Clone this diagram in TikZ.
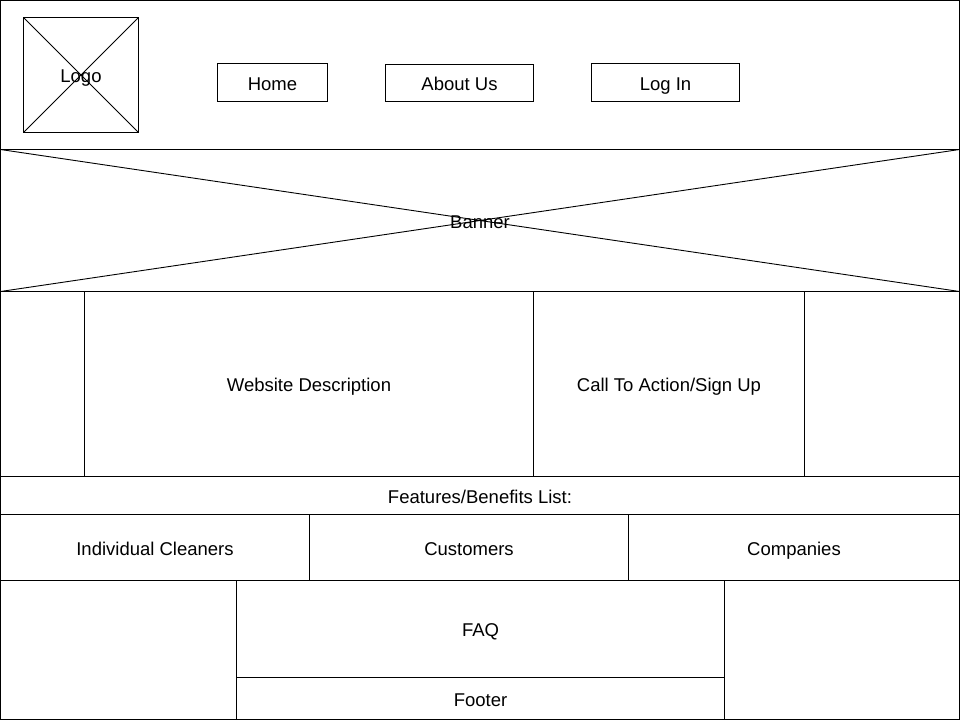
\documentclass[tikz,border=0pt]{standalone}
\usepackage{fontspec}
\setmainfont{Liberation Sans}
\begin{document}
\begin{tikzpicture}[x=1pt,y=-1pt,
  lbl/.style={font=\fontsize{18.5}{22}\selectfont, text height=18pt, text depth=3pt},
  box/.style={lbl, draw=black, line width=1pt, rectangle, inner sep=0pt, outer sep=0pt, anchor=north west},
  cross/.style={line width=0.9pt}]
\useasboundingbox (0,0) rectangle (960,720);
\fill[white] (0,0) rectangle (960,720);
% outer frame
\node[box, minimum width=959pt, minimum height=719pt] (frame) at (0.5,0.5) {};
% header
\node[box, minimum width=115pt, minimum height=115pt] (logo) at (23.5,17.5) {};
\draw[cross] (logo.north west) -- (logo.south east) (logo.south west) -- (logo.north east);
\node[lbl, inner sep=0pt] (logot) at (logo.center) {Logo};
\node[box, minimum width=110pt, minimum height=38pt] (home) at (217.5,63.5) {Home};
\node[box, minimum width=148pt, minimum height=37pt] (about) at (385.5,64.5) {About Us};
\node[box, minimum width=148pt, minimum height=38pt] (login) at (591.5,63.5) {Log In};
% banner
\node[box, minimum width=959pt, minimum height=142pt] (banner) at (0.5,149.5) {};
\draw[cross] (banner.north west) -- (banner.south east) (banner.south west) -- (banner.north east);
\node[lbl, inner sep=0pt] (bannert) at (banner.center) {Banner};
% description row
\node[box, minimum width=84pt, minimum height=185pt] (dl) at (0.5,291.5) {};
\node[box, minimum width=449pt, minimum height=185pt] (desc) at (84.5,291.5) {Website Description};
\node[box, minimum width=271pt, minimum height=185pt] (cta) at (533.5,291.5) {Call To Action/Sign Up};
\node[box, minimum width=155pt, minimum height=185pt] (dr) at (804.5,291.5) {};
% features
\node[box, minimum width=959pt, minimum height=38pt] (feat) at (0.5,476.5) {Features/Benefits List:};
\node[box, minimum width=309pt, minimum height=66pt] (ind) at (0.5,514.5) {Individual Cleaners};
\node[box, minimum width=319pt, minimum height=66pt] (cust) at (309.5,514.5) {Customers};
\node[box, minimum width=331pt, minimum height=66pt] (comp) at (628.5,514.5) {Companies};
% bottom
\node[box, minimum width=236pt, minimum height=139pt] (bl) at (0.5,580.5) {};
\node[box, minimum width=488pt, minimum height=97pt] (faq) at (236.5,580.5) {FAQ};
\node[box, minimum width=488pt, minimum height=42pt] (footer) at (236.5,677.5) {Footer};
\node[box, minimum width=235pt, minimum height=139pt] (br) at (724.5,580.5) {};
\end{tikzpicture}
\end{document}
